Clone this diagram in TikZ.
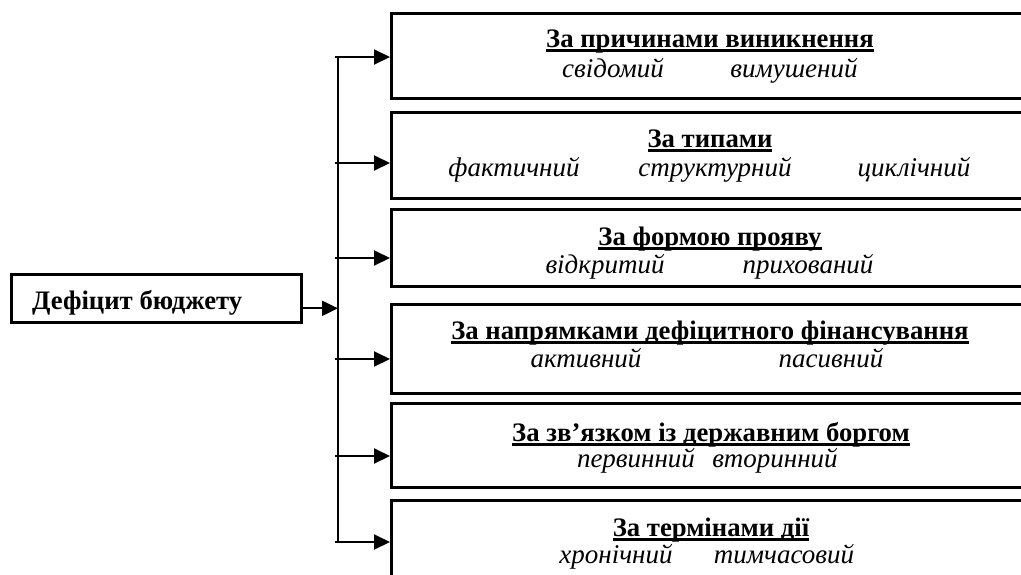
\documentclass[tikz,border=0pt]{standalone}
\usepackage{fontspec}
\setmainfont{Liberation Serif}
\usetikzlibrary{arrows.meta}
\newcommand{\ulhead}[1]{\setbox0\hbox{#1}\rlap{\rule[-5pt]{\wd0}{3pt}}\box0}

\begin{document}
\begin{tikzpicture}[x=1pt,y=-1pt,
    frame/.style={draw,line width=2.6pt,rectangle,anchor=north west,inner sep=0pt},
    head/.style={font=\fontsize{26.7}{30}\selectfont\bfseries,anchor=base,inner sep=0pt},
    kind/.style={font=\fontsize{27}{30}\selectfont\itshape,anchor=base,inner sep=0pt},
    link/.style={line width=2pt,-{Triangle[length=16pt,width=15pt]}}]
    \clip (0,0) rectangle (1021,574);
    \node[frame,minimum width=290pt,minimum height=48pt] (deficit) at (10,273) {};
    \node[head,anchor=base west] (deficit-text) at (32,309) {Дефіцит бюджету};
    \node[frame,minimum width=640pt,minimum height=85pt] (cause) at (390,12) {};
    \node[frame,minimum width=640pt,minimum height=86pt] (type) at (390,111) {};
    \node[frame,minimum width=640pt,minimum height=77pt] (form) at (390,208) {};
    \node[frame,minimum width=640pt,minimum height=89pt] (direction) at (390,303) {};
    \node[frame,minimum width=640pt,minimum height=84pt] (debt) at (390,402) {};
    \node[frame,minimum width=640pt,minimum height=95pt] (term) at (390,499) {};
    \node[head] (cause-head) at (710,47) {\ulhead{За причинами виникнення}};
    \node[kind] (cause-a) at (613,77) {свідомий};
    \node[kind] (cause-b) at (794,77) {вимушений};
    \node[head] (type-head) at (710,147) {\ulhead{За типами}};
    \node[kind] (type-a) at (514,176) {фактичний};
    \node[kind] (type-b) at (715,176) {структурний};
    \node[kind] (type-c) at (914,176) {циклічний};
    \node[head] (form-head) at (710,245) {\ulhead{За формою прояву}};
    \begin{scope}
        \clip (form.north west) rectangle ([yshift=9pt]form.south east);
        \node[kind] (form-a) at (605,273) {відкритий};
        \node[kind] (form-b) at (808,273) {прихований};
    \end{scope}
    \node[head] (direction-head) at (710,339) {\ulhead{За напрямками дефіцитного фінансування}};
    \node[kind] (direction-a) at (586,367) {активний};
    \node[kind] (direction-b) at (831,367) {пасивний};
    \node[head] (debt-head) at (711,441) {\ulhead{За зв’язком із державним боргом}};
    \node[kind] (debt-a) at (636,467) {первинний};
    \node[kind] (debt-b) at (775,467) {вторинний};
    \node[head] (term-head) at (711,536) {\ulhead{За термінами дії}};
    \node[kind] (term-a) at (616,563) {хронічний};
    \node[kind] (term-b) at (784,563) {тимчасовий};
    \coordinate (spine-top) at (338,57);
    \coordinate (spine-bottom) at (338,542);
    \draw[line width=2pt] (spine-top) -- (spine-bottom);
    \draw[link] ([yshift=-10pt]deficit.east) -- ([yshift=-10pt]deficit.east -| spine-top);
    \foreach \b/\y in {cause/57,type/163,form/258,direction/359,debt/456,term/542}
      {\coordinate (\b-in) at (335,\y);
       \draw[link] (\b-in) -- (\b-in -| \b.west);}
\end{tikzpicture}
\end{document}
